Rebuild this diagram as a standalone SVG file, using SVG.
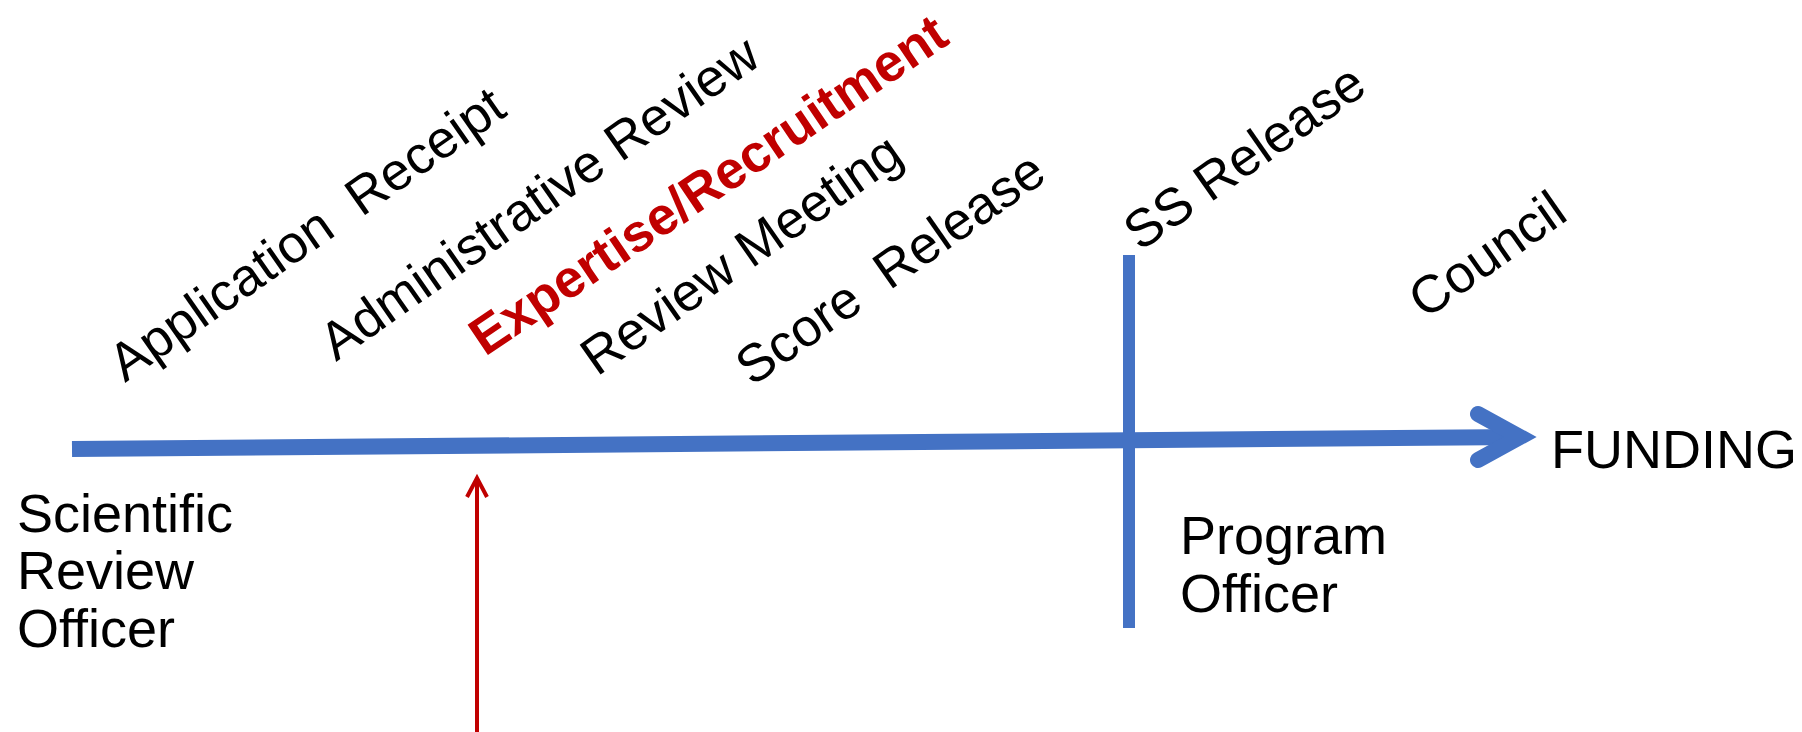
<svg xmlns="http://www.w3.org/2000/svg" width="1802" height="732" viewBox="0 0 1802 732">
<defs>
<style>
.t{font-family:"Liberation Sans",Arial,sans-serif;font-size:54px;fill:#000}
.r{font-size:53px}
.b{font-weight:bold;font-size:53px;fill:#C00000}
.blue{stroke:#4472C4;fill:none}
</style>
</defs>
<rect width="1802" height="732" fill="#fff"/>
<g id="connectors">
<line class="blue" x1="72" y1="449" x2="1522" y2="437" stroke-width="16"/>
<polyline class="blue" points="1478,414 1520,437 1478,460" stroke-width="16" stroke-linecap="round" stroke-linejoin="miter"/>
<line class="blue" x1="1129" y1="255" x2="1129" y2="628" stroke-width="12"/>
<line x1="477" y1="479" x2="477" y2="740" stroke="#C00000" stroke-width="4"/>
<polyline points="467,497 477,478 487,497" fill="none" stroke="#C00000" stroke-width="4"/>
</g>
<g id="n-application"><text class="t r" xml:space="preserve" x="125" y="383" transform="rotate(-35 125 383)">Application  Receipt</text></g>
<g id="n-admin"><text class="t r" x="336" y="362" transform="rotate(-35 336 362)">Administrative Review</text></g>
<g id="n-expertise"><text class="t b" x="485" y="357" transform="rotate(-34 485 357)">Expertise/Recruitment</text></g>
<g id="n-meeting"><text class="t r" x="597" y="377" transform="rotate(-35 597 377)">Review Meeting</text></g>
<g id="n-score"><text class="t r" xml:space="preserve" x="752" y="387" transform="rotate(-35 752 387)">Score  Release</text></g>
<g id="n-ss"><text class="t r" x="1140" y="252" transform="rotate(-35 1140 252)">SS Release</text></g>
<g id="n-council"><text class="t r" x="1425" y="320" transform="rotate(-35 1425 320)">Council</text></g>
<g id="n-sro"><text class="t" x="17" y="532">Scientific</text><text class="t" x="17" y="589">Review</text><text class="t" x="17" y="647">Officer</text></g>
<g id="n-po"><text class="t" x="1180" y="554">Program</text><text class="t" x="1180" y="612">Officer</text></g>
<g id="n-funding"><text class="t" x="1551" y="468">FUNDING</text></g>
</svg>
